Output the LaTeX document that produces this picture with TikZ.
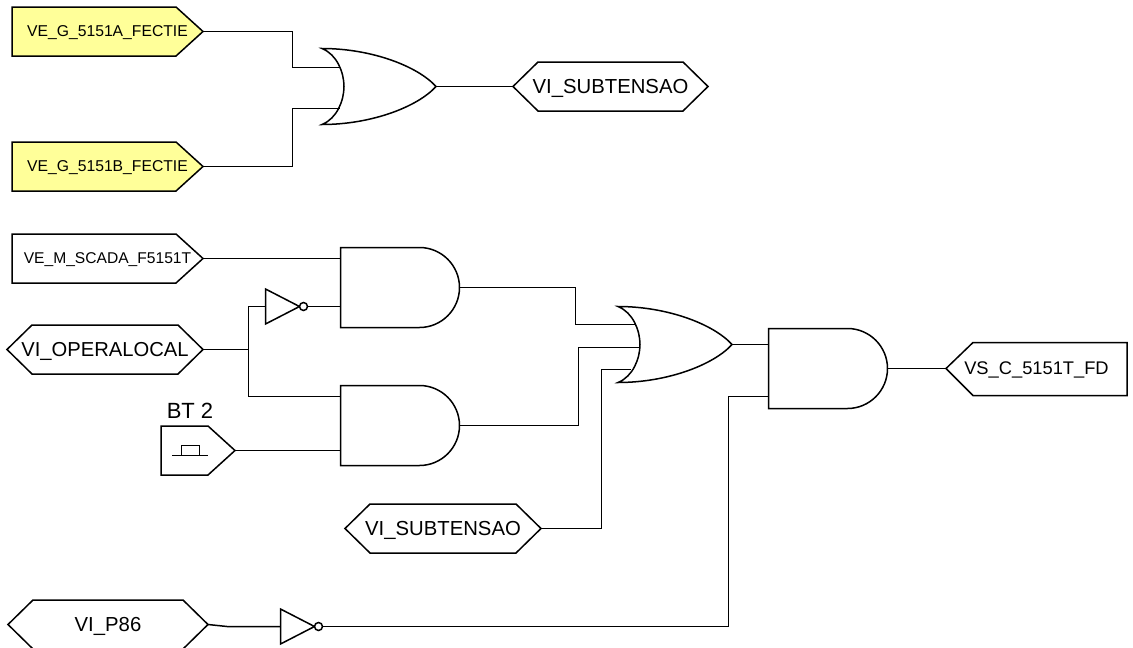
\documentclass[tikz,border=0pt]{standalone}
\usepackage{fontspec}
\setmainfont{Liberation Sans}
\definecolor{tagYellow}{RGB}{255,255,153}
\tikzset{
wirestyle/.style={line width=1.5pt, line join=miter},
gatestyle/.style={line width=1.5pt, fill=white},
labelstyle/.style={inner sep=0pt, outer sep=0pt, text depth=0pt},
bubblestyle/.style={circle, minimum size=8pt, inner sep=0pt, line width=1.5pt, draw, fill=white}
}
% right pointing tag: name, left, right, top, text, font size, fill
\newcommand{\tagright}[7]{
  \draw [gatestyle, fill=#7] (#2, #4) -- (#3-27, #4) -- (#3, #4+24.5) -- (#3-27, #4+49) -- (#2, #4+49) -- cycle;
  \coordinate (#1out) at (#3, #4+24.5);
  \node [labelstyle, font=\fontsize{#6}{#6}\selectfont] (#1text) at ({(#2+#3)/2}, #4+24.5) {#5};
}
% left pointing tag
\newcommand{\tagleft}[6]{
  \draw [gatestyle] (#2, #4+26) -- (#2+27, #4) -- (#3, #4) -- (#3, #4+53) -- (#2+27, #4+53) -- cycle;
  \coordinate (#1in) at (#2, #4+26);
  \node [labelstyle, font=\fontsize{#6}{#6}\selectfont] (#1text) at ({(#2+#3)/2}, #4+26) {#5};
}
% hexagon tag
\newcommand{\taghex}[6]{
  \draw [gatestyle] (#2, #4+24.5) -- (#2+25, #4) -- (#3-25, #4) -- (#3, #4+24.5) -- (#3-25, #4+49) -- (#2+25, #4+49) -- cycle;
  \coordinate (#1in) at (#2, #4+24.5);
  \coordinate (#1out) at (#3, #4+24.5);
  \node [labelstyle, font=\fontsize{#6}{#6}\selectfont] (#1text) at ({(#2+#3)/2}, #4+24.5) {#5};
}
% and gate: name, left, top, input offsets
\newcommand{\andgate}[4]{
  \draw [gatestyle] (#2, #3) -- (#2+79, #3) .. controls (#2+101, #3) and (#2+119, #3+18) .. (#2+119, #3+40)
    .. controls (#2+119, #3+62) and (#2+101, #3+80) .. (#2+79, #3+80) -- (#2, #3+80) -- cycle;
  \coordinate (#1out) at (#2+119, #3+40);
  \foreach \i/\dy in {#4}
  {
    \coordinate (#1in\i) at (#2, #3+\dy);
  }
}
% or gate: name, left, middle, inputs as number/offset/depth
\newcommand{\orgate}[4]{
  \draw [gatestyle] (#2, #3-38) .. controls (#2+50, #3-38) and (#2+96, #3-20) .. (#2+114, #3)
    .. controls (#2+96, #3+20) and (#2+50, #3+38) .. (#2, #3+38)
    .. controls (#2+15, #3+32) and (#2+22, #3+14) .. (#2+22, #3)
    .. controls (#2+22, #3-14) and (#2+15, #3-32) .. (#2, #3-38) -- cycle;
  \coordinate (#1out) at (#2+114, #3);
  \foreach \i/\dy/\dx in {#4}
  {
    \coordinate (#1in\i) at (#2+\dx, #3+\dy);
  }
}
% inverter: name, left, middle
\newcommand{\notgate}[3]{
  \draw [gatestyle] (#2, #3-17.5) -- (#2+34, #3) -- (#2, #3+17.5) -- cycle;
  \node [bubblestyle] (#1bub) at (#2+38, #3) {};
  \coordinate (#1in) at (#2, #3);
  \coordinate (#1out) at (#1bub.east);
}

\begin{document}
\begin{tikzpicture}[x=1pt, y=-1pt]
\useasboundingbox (0, 0) rectangle (1133, 648);

\tagright {fectieA}{12}{203}{7}{VE\_G\_5151A\_FECTIE}{15.7}{tagYellow}
\tagright {fectieB}{12}{203}{142}{VE\_G\_5151B\_FECTIE}{15.7}{tagYellow}
\orgate {orA}{322}{86.5}{0/-19/18, 1/22/17.5}
\taghex {subA}{513}{708}{62}{VI\_SUBTENSAO}{20.3}

\tagright {scada}{12}{203}{234}{VE\_M\_SCADA\_F5151T}{15.6}{white}
\taghex {local}{7}{203}{325}{VI\_OPERALOCAL}{20.2}
\tagright {bt}{161}{235}{426}{}{10}{white}
\node [labelstyle, font=\fontsize{22}{22}\selectfont] (btlabel) at (190, 411) {BT 2};
\coordinate (btA) at (172, 455.5);
\coordinate (btB) at (208, 455.5);
\draw [line width=1.2pt] (btA) -- (btB);
\draw [line width=1.2pt] (181.5, 455.5) -- (181.5, 445.5) -- (199.5, 445.5) -- (199.5, 455.5);

\andgate {andA}{340.5}{247.5}{0/11, 1/59}
\andgate {andB}{340.5}{385.5}{0/11, 1/65}
\notgate {notA}{265.5}{306.5}

\orgate {orB}{618}{344.5}{0/-20/16.5, 1/3/22, 2/25/13}
\andgate {andC}{768.5}{328.5}{0/16, 1/68}
\tagleft {vsc}{946}{1127}{342.5}{VS\_C\_5151T\_FD}{18.3}

\taghex {subB}{345}{541}{504}{VI\_SUBTENSAO}{20.3}
\taghex {pzero}{8}{208}{600}{VI\_P86}{20.3}
\notgate {notB}{280.5}{626.5}

\draw [wirestyle] (fectieAout) -- (292.5, 31.5) |- (orAin0);
\draw [wirestyle] (fectieBout) -- (292.5, 166.5) |- (orAin1);
\draw [wirestyle] (orAout) -- (subAin);

\draw [wirestyle] (scadaout) -- (andAin0);
\draw [wirestyle] (localout) -- (248.5, 349.5) coordinate (split);
\draw [wirestyle] (notAin) -| (split) |- (andBin0);
\draw [wirestyle] (notAout) -- (andAin1);
\draw [wirestyle] (btout) -- (andBin1);

\draw [wirestyle] (andAout) -| (575.5, 324.5) -- (orBin0);
\draw [wirestyle] (andBout) -| (578.5, 347.5) -- (orBin1);
\draw [wirestyle] (subBout) -| (601.5, 369.5) -- (orBin2);
\draw [wirestyle] (orBout) -- (andCin0);
\draw [wirestyle] (andCout) -- (vscin);

\draw [wirestyle] (pzeroout) -- (227, 626.5) -- (notBin);
\draw [wirestyle] (notBout) -| (728.5, 396.5) -- (andCin1);
\end{tikzpicture}
\end{document}
